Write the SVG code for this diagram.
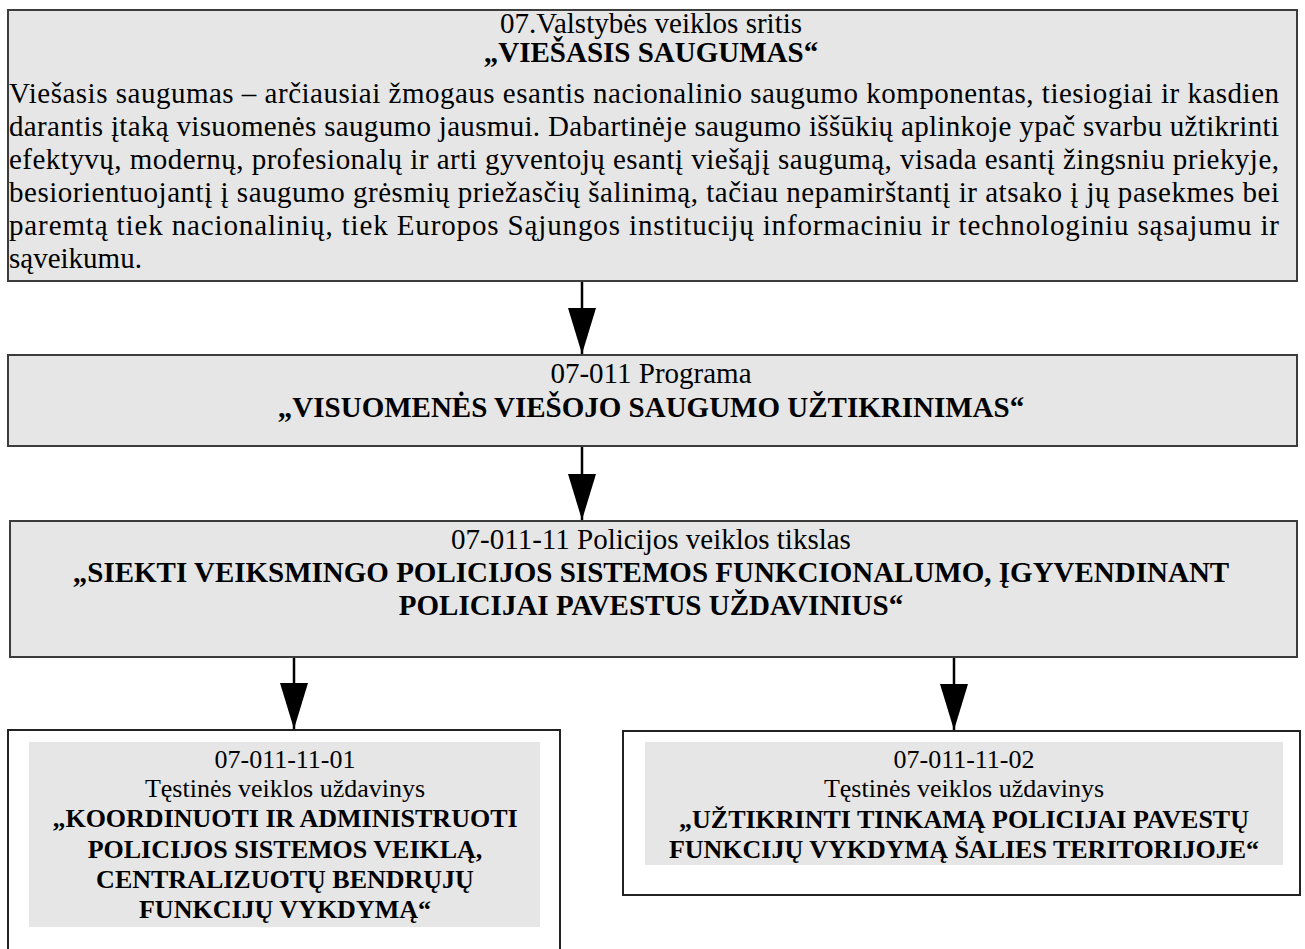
<svg xmlns="http://www.w3.org/2000/svg" width="1305" height="949" viewBox="0 0 1305 949">
<defs>
<style>
.box{fill:#e6e6e6;stroke:#3c3c3c;stroke-width:2}
.wbox{fill:#ffffff;stroke:#222;stroke-width:2}
.inner{fill:#e6e6e6;stroke:none}
text{font-family:"Liberation Serif","Times New Roman",serif;fill:#000}
.f29{font-size:29px}
.f26{font-size:26px}
.b{font-weight:bold}
.c{text-anchor:middle}
.conn line{stroke:#000;stroke-width:2.5}
</style>
<marker id="ah" viewBox="0 -14 46 28" refX="46" refY="0" markerWidth="46" markerHeight="28" markerUnits="userSpaceOnUse" orient="auto">
<path d="M0,-14 L46,0 L0,14 z" fill="#000"/>
</marker>
</defs>
<rect width="1305" height="949" fill="#fff"/>

<g id="node-sritis">
<rect class="box" x="8" y="10" width="1289" height="271"/>
<text class="f29 c" x="651" y="33">07.Valstybės veiklos sritis</text>
<text class="f29 c b" x="651" y="62">„VIEŠASIS SAUGUMAS“</text>
<text class="f29" x="9" y="103" textLength="1270" lengthAdjust="spacing">Viešasis saugumas – arčiausiai žmogaus esantis nacionalinio saugumo komponentas, tiesiogiai ir kasdien</text>
<text class="f29" x="9" y="136" textLength="1270" lengthAdjust="spacing">darantis įtaką visuomenės saugumo jausmui. Dabartinėje saugumo iššūkių aplinkoje ypač svarbu užtikrinti</text>
<text class="f29" x="9" y="169" textLength="1270" lengthAdjust="spacing">efektyvų, modernų, profesionalų ir arti gyventojų esantį viešąjį saugumą, visada esantį žingsniu priekyje,</text>
<text class="f29" x="9" y="202" textLength="1270" lengthAdjust="spacing">besiorientuojantį į saugumo grėsmių priežasčių šalinimą, tačiau nepamirštantį ir atsako į jų pasekmes bei</text>
<text class="f29" x="9" y="235" textLength="1270" lengthAdjust="spacing">paremtą tiek nacionalinių, tiek Europos Sąjungos institucijų informaciniu ir technologiniu sąsajumu ir</text>
<text class="f29" x="9" y="268">sąveikumu.</text>
</g>

<g id="node-programa">
<rect class="box" x="8" y="355" width="1289" height="91"/>
<text class="f29 c" x="651" y="383">07-011 Programa</text>
<text class="f29 c b" x="651" y="417">„VISUOMENĖS VIEŠOJO SAUGUMO UŽTIKRINIMAS“</text>
</g>

<g id="node-tikslas">
<rect class="box" x="10" y="521" width="1287" height="136"/>
<text class="f29 c" x="651" y="549">07-011-11 Policijos veiklos tikslas</text>
<text class="f29 c b" x="651" y="582">„SIEKTI VEIKSMINGO POLICIJOS SISTEMOS FUNKCIONALUMO, ĮGYVENDINANT</text>
<text class="f29 c b" x="651" y="615">POLICIJAI PAVESTUS UŽDAVINIUS“</text>
</g>

<g id="node-uzdavinys-01">
<rect class="wbox" x="8" y="730" width="552" height="240"/>
<rect class="inner" x="29" y="742" width="511" height="185"/>
<text class="f26 c" x="285" y="768">07-011-11-01</text>
<text class="f26 c" x="285" y="797">Tęstinės veiklos uždavinys</text>
<text class="f26 c b" x="285" y="827">„KOORDINUOTI IR ADMINISTRUOTI</text>
<text class="f26 c b" x="285" y="858">POLICIJOS SISTEMOS VEIKLĄ,</text>
<text class="f26 c b" x="285" y="888">CENTRALIZUOTŲ BENDRŲJŲ</text>
<text class="f26 c b" x="285" y="918">FUNKCIJŲ VYKDYMĄ“</text>
</g>

<g id="node-uzdavinys-02">
<rect class="wbox" x="623" y="731" width="677" height="164"/>
<rect class="inner" x="645" y="742" width="638" height="123"/>
<text class="f26 c" x="964" y="768">07-011-11-02</text>
<text class="f26 c" x="964" y="797">Tęstinės veiklos uždavinys</text>
<text class="f26 c b" x="964" y="828">„UŽTIKRINTI TINKAMĄ POLICIJAI PAVESTŲ</text>
<text class="f26 c b" x="964" y="858">FUNKCIJŲ VYKDYMĄ ŠALIES TERITORIJOJE“</text>
</g>

<g id="connectors" class="conn">
<line x1="582" y1="282" x2="582" y2="354" marker-end="url(#ah)"/>
<line x1="582" y1="447" x2="582" y2="520" marker-end="url(#ah)"/>
<line x1="294" y1="658" x2="294" y2="729" marker-end="url(#ah)"/>
<line x1="954" y1="658" x2="954" y2="730" marker-end="url(#ah)"/>
</g>
</svg>
